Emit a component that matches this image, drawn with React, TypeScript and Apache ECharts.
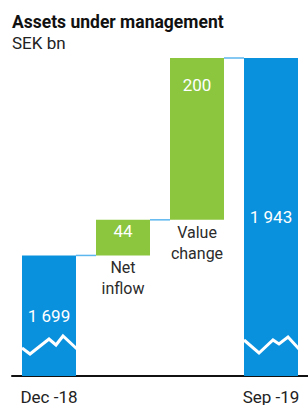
import React, { useEffect, useRef } from "react";
import * as echarts from "echarts";

const categories = ["Dec -18", "Net inflow", "Value change", "Sep -19"];
const changeNames = ["Net\ninflow", "Value\nchange"];
const startValue = 1699;
const changeValues = [44, 200];
const endValue = 1943;
const axisMin = 1550;
const axisMax = 1943;

const BLUE = "#0a91dd";
const GREEN = "#8cc63f";
const LINK = "#5cb7ee";
const FONT = "Roboto, 'Liberation Sans', sans-serif";
const BAR_W = 54;
// zigzag break mark shapes, pixel offsets from bar's bottom-left corner
const breakShapes = [
  [[0, -28], [8, -22], [27, -37], [34, -31], [41, -40], [55, -27]],
  [[0, -36], [15, -23], [29, -36], [35, -32], [44, -39], [55, -27]],
];

export default function App() {
  const ref = useRef<HTMLDivElement>(null);
  useEffect(() => {
    if (!ref.current) return;
    const chart = echarts.init(ref.current, null, { renderer: "svg" });

    const n = categories.length;
    const baseData: any[] = [];
    const totalData: any[] = [];
    const changeData: any[] = [];
    const tops: number[] = [];
    let running = startValue;
    for (let i = 0; i < n; i++) {
      if (i === 0) {
        baseData.push(0);
        totalData.push(startValue);
        changeData.push("-");
        tops.push(startValue);
      } else if (i === n - 1) {
        baseData.push(0);
        totalData.push(endValue);
        changeData.push("-");
        tops.push(endValue);
      } else {
        const v = changeValues[i - 1];
        baseData.push({
          value: running,
          label: {
            show: true,
            position: "insideTop",
            distance: 2,
            formatter: changeNames[i - 1],
            color: "#2b2b2b",
            fontSize: 16,
            lineHeight: 21,
            fontFamily: FONT,
          },
        });
        totalData.push("-");
        changeData.push({
          value: v,
          label: { distance: i === 1 ? 3 : 18 },
        });
        running += v;
        tops.push(running);
      }
    }

    const totalIdx = [0, n - 1];

    chart.setOption({
      animation: false,
      title: {
        text: "Assets under management",
        subtext: "SEK bn",
        left: 12,
        top: 13,
        itemGap: 3,
        padding: 0,
        textStyle: { fontFamily: FONT, fontSize: 17.5, fontWeight: "bold", color: "#111" },
        subtextStyle: { fontFamily: FONT, fontSize: 17, color: "#222" },
      },
      grid: { left: 12, right: -5, top: 58, bottom: 26 },
      xAxis: {
        type: "category",
        data: categories,
        axisTick: { show: false },
        axisLine: { lineStyle: { color: "#111", width: 2 } },
        axisLabel: {
          interval: 0,
          margin: 12,
          fontFamily: FONT,
          fontSize: 17,
          color: "#222",
          formatter: (v: string, i: number) => (i === 0 || i === n - 1 ? v : ""),
        },
      },
      yAxis: {
        type: "value",
        min: axisMin,
        max: axisMax,
        show: false,
        splitLine: { show: false },
      },
      series: [
        {
          type: "bar",
          stack: "w",
          barWidth: BAR_W,
          itemStyle: { color: "transparent" },
          data: baseData,
          clip: true,
          z: 2,
        },
        {
          type: "bar",
          stack: "w",
          barWidth: BAR_W,
          itemStyle: { color: BLUE },
          data: totalData,
          clip: true,
          label: {
            show: true,
            position: "inside",
            color: "#fff",
            fontFamily: FONT,
            fontSize: 17,
            formatter: (p: any) => String(p.value).replace(/\B(?=(\d{3})+(?!\d))/g, " "),
          },
        },
        {
          type: "bar",
          stack: "w",
          barWidth: BAR_W,
          itemStyle: { color: GREEN },
          data: changeData,
          clip: true,
          label: {
            show: true,
            position: "insideTop",
            color: "#fff",
            fontFamily: FONT,
            fontSize: 17,
          },
        },
        {
          type: "custom",
          z: 5,
          data: tops.slice(0, n - 1).map((t, i) => [i, t]),
          renderItem: (params: any, api: any) => {
            const i = api.value(0);
            const t = api.value(1);
            const a = api.coord([i, t]);
            const b = api.coord([i + 1, t]);
            return {
              type: "line",
              shape: { x1: a[0] + BAR_W / 2, y1: a[1], x2: b[0] - BAR_W / 2, y2: a[1] },
              style: { stroke: LINK, lineWidth: 1.5 },
            };
          },
        },
        {
          type: "custom",
          z: 6,
          data: totalIdx.map((ci) => [ci, axisMin]),
          renderItem: (params: any, api: any) => {
            const ci = api.value(0);
            const p = api.coord([ci, axisMin]);
            const shape = breakShapes[params.dataIndex];
            const left = p[0] - BAR_W / 2;
            return {
              type: "polyline",
              shape: { points: shape.map((s: number[]) => [left + s[0], p[1] + s[1]]) },
              style: { stroke: "#fff", lineWidth: 3, fill: null, lineJoin: "miter" },
            };
          },
        },
      ],
    });
    return () => chart.dispose();
  }, []);
  return (
    <div
      ref={ref}
      style={{ position: "absolute", left: 0, top: 0, width: 308, height: 405 }}
    />
  );
}
